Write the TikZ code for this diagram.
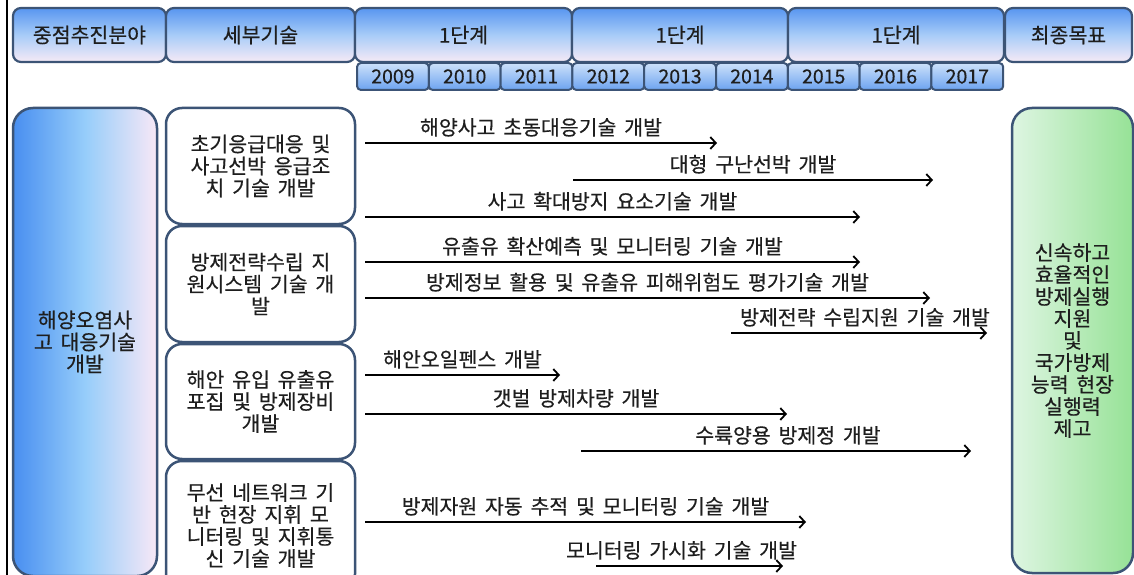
\documentclass[tikz,border=0pt]{standalone}
\usepackage{fontspec}
\newfontfamily\kr[WordSpace=1.7,FakeBold=0.4]{Noto Sans CJK KR}
\usetikzlibrary{arrows.meta}
\definecolor{bord}{RGB}{60,84,118}
\definecolor{hdtop}{RGB}{88,150,240}
\definecolor{hdmid}{RGB}{168,204,248}
\definecolor{hdbot}{RGB}{246,234,246}
\definecolor{yrtop}{RGB}{205,225,250}
\definecolor{yrbot}{RGB}{108,163,240}
\definecolor{lbl1}{RGB}{72,142,240}
\definecolor{lbl2}{RGB}{150,205,250}
\definecolor{lbl3}{RGB}{248,232,246}
\definecolor{grl}{RGB}{222,245,226}
\definecolor{grr}{RGB}{150,226,150}
\definecolor{txt}{RGB}{30,30,30}
\begin{document}
\begin{tikzpicture}[x=1pt,y=-1pt,
  font=\kr\fontsize{20.5pt}{22pt}\selectfont, text=txt,
  hdr/.style={draw=bord, line width=2.2pt, rounded corners=8pt,
    top color=hdtop, bottom color=hdbot, middle color=hdmid,
    inner sep=0pt, minimum height=54pt},
  yr/.style={draw=bord, line width=2pt, rounded corners=4pt,
    top color=yrtop, bottom color=yrbot, inner sep=0pt,
    minimum height=27pt, minimum width=71.8pt,
    font=\kr\fontsize{19.5pt}{20pt}\selectfont},
  sub/.style={draw=bord, line width=2.5pt, rounded corners=16pt, fill=white,
    inner sep=0pt, minimum width=189pt, align=center},
  big/.style={draw=bord, line width=2.5pt, rounded corners=20pt,
    inner sep=0pt, align=center},
  arr/.style={line width=1.8pt, draw=black, -{Straight Barb[length=5.5pt,width=12pt]}},
  lbl/.style={midway, anchor=base, yshift=8pt, inner sep=0pt}
]
\useasboundingbox (0,0) rectangle (1134,575);
\clip (0,0) rectangle (1134,575);
\fill[white] (0,0) rectangle (1134,575);
\draw[line width=1.5pt, black] (7,0) -- (7,575);

% header
\node[hdr, minimum width=153pt] (h1) at (89.5,35) {중점추진분야};
\node[hdr, minimum width=189pt] (h2) at (260.5,35) {세부기술};
\node[hdr, minimum width=217pt] (h3) at (463.5,35) {1단계};
\node[hdr, minimum width=216pt] (h4) at (680,35) {1단계};
\node[hdr, minimum width=216pt] (h5) at (896,35) {1단계};
\node[hdr, minimum width=127pt] (h6) at (1068.5,35) {최종목표};

% years
\foreach \yy [count=\i from 0] in {2009,2010,2011,2012,2013,2014,2015,2016,2017}
  \node[yr] (y\yy) at ({357+71.8*(\i+0.5)},76.5) {\yy};

% left and right big boxes
\node[big, minimum width=144pt, minimum height=468pt,
  left color=lbl1, right color=lbl3, middle color=lbl2] (goal0) at (85,342)
  {해양오염사\\고 대응기술\\개발};
\node[big, minimum width=121pt, minimum height=465pt,
  left color=grl, right color=grr] (goal) at (1072.5,340.5)
  {신속하고\\효율적인\\방제실행\\지원\\및\\국가방제\\능력 현장\\실행력\\제고};

% sub boxes
\node[sub, minimum height=116pt] (s1) at (260.5,166) {초기응급대응 및\\사고선박 응급조\\치 기술 개발};
\node[sub, minimum height=116pt] (s2) at (260.5,284) {방제전략수립 지\\원시스템 기술 개\\발};
\node[sub, minimum height=115pt] (s3) at (260.5,401.5) {해안 유입 유출유\\포집 및 방제장비\\개발};
\node[sub, minimum height=129pt] (s4) at (260.5,525.5) {무선 네트워크 기\\반 현장 지휘 모\\니터링 및 지휘통\\신 기술 개발};

% arrows
\coordinate (a1s) at (365,143); \coordinate (a1e) at (717,143);
\coordinate (a2s) at (573,180); \coordinate (a2e) at (933,180);
\coordinate (a3s) at (365,217); \coordinate (a3e) at (860,217);
\coordinate (a4s) at (365,262); \coordinate (a4e) at (860,262);
\coordinate (a5s) at (365,298); \coordinate (a5e) at (930,298);
\coordinate (a6s) at (731,333); \coordinate (a6e) at (987,333);
\coordinate (a7s) at (365,375); \coordinate (a7e) at (560,375);
\coordinate (a8s) at (365,414); \coordinate (a8e) at (787,414);
\coordinate (a9s) at (581,451); \coordinate (a9e) at (971,451);
\coordinate (a10s) at (365,522); \coordinate (a10e) at (806,522);
\coordinate (a11s) at (596,566); \coordinate (a11e) at (783,566);

\draw[arr] (a1s) -- node[lbl]{해양사고 초동대응기술 개발} (a1e);
\draw[arr] (a2s) -- node[lbl]{대형 구난선박 개발} (a2e);
\draw[arr] (a3s) -- node[lbl]{사고 확대방지 요소기술 개발} (a3e);
\draw[arr] (a4s) -- node[lbl]{유출유 확산예측 및 모니터링 기술 개발} (a4e);
\draw[arr] (a5s) -- node[lbl]{방제정보 활용 및 유출유 피해위험도 평가기술 개발} (a5e);
\draw[arr] (a6s) -- node[lbl, xshift=6pt]{방제전략 수립지원 기술 개발} (a6e);
\draw[arr] (a7s) -- node[lbl]{해안오일펜스 개발} (a7e);
\draw[arr] (a8s) -- node[lbl]{갯벌 방제차량 개발} (a8e);
\draw[arr] (a9s) -- node[lbl, xshift=12pt]{수륙양용 방제정 개발} (a9e);
\draw[arr] (a10s) -- node[lbl]{방제자원 자동 추적 및 모니터링 기술 개발} (a10e);
\draw[arr] (a11s) -- node[lbl, xshift=-8pt]{모니터링 가시화 기술 개발} (a11e);
\end{tikzpicture}
\end{document}
